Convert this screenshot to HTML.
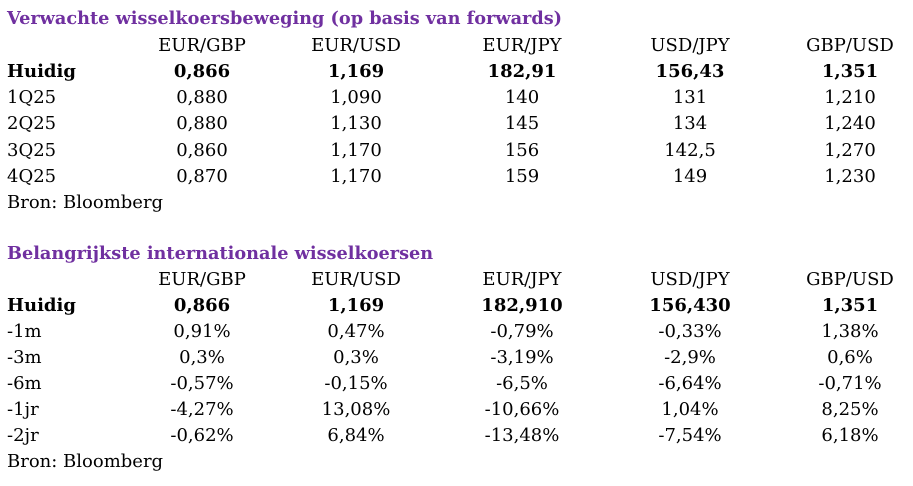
<!DOCTYPE html>
<html><head><meta charset="utf-8"><style>
body{margin:0;width:913px;height:486px;background:#fff;position:relative;overflow:hidden;font-family:"DejaVu Serif","Liberation Serif",serif;font-size:18px;color:#000}
.t{position:absolute;left:7px;color:#7030A0;font-weight:bold;white-space:nowrap;font-size:17.7px}
.r{position:absolute;left:0;width:913px;height:26px;white-space:nowrap}
.r span{position:absolute;top:0}
.l{left:7px}
.c{transform:translateX(-50%)}
.b{font-weight:bold}
</style></head><body>
<div class="t" style="top:8px">Verwachte wisselkoersbeweging (op basis van forwards)</div>
<div class="r" style="top:35px"><span class="c" style="left:202px">EUR/GBP</span><span class="c" style="left:356px">EUR/USD</span><span class="c" style="left:522px">EUR/JPY</span><span class="c" style="left:690px">USD/JPY</span><span class="c" style="left:850px">GBP/USD</span></div>
<div class="r b" style="top:61px"><span class="l">Huidig</span><span class="c" style="left:202px">0,866</span><span class="c" style="left:356px">1,169</span><span class="c" style="left:522px">182,91</span><span class="c" style="left:690px">156,43</span><span class="c" style="left:850px">1,351</span></div>
<div class="r" style="top:87px"><span class="l">1Q25</span><span class="c" style="left:202px">0,880</span><span class="c" style="left:356px">1,090</span><span class="c" style="left:522px">140</span><span class="c" style="left:690px">131</span><span class="c" style="left:850px">1,210</span></div>
<div class="r" style="top:113px"><span class="l">2Q25</span><span class="c" style="left:202px">0,880</span><span class="c" style="left:356px">1,130</span><span class="c" style="left:522px">145</span><span class="c" style="left:690px">134</span><span class="c" style="left:850px">1,240</span></div>
<div class="r" style="top:140px"><span class="l">3Q25</span><span class="c" style="left:202px">0,860</span><span class="c" style="left:356px">1,170</span><span class="c" style="left:522px">156</span><span class="c" style="left:690px">142,5</span><span class="c" style="left:850px">1,270</span></div>
<div class="r" style="top:166px"><span class="l">4Q25</span><span class="c" style="left:202px">0,870</span><span class="c" style="left:356px">1,170</span><span class="c" style="left:522px">159</span><span class="c" style="left:690px">149</span><span class="c" style="left:850px">1,230</span></div>
<div class="r" style="top:192px"><span class="l">Bron: Bloomberg</span></div>

<div class="t" style="top:243px">Belangrijkste internationale wisselkoersen</div>
<div class="r" style="top:269px"><span class="c" style="left:202px">EUR/GBP</span><span class="c" style="left:356px">EUR/USD</span><span class="c" style="left:522px">EUR/JPY</span><span class="c" style="left:690px">USD/JPY</span><span class="c" style="left:850px">GBP/USD</span></div>
<div class="r b" style="top:295px"><span class="l">Huidig</span><span class="c" style="left:202px">0,866</span><span class="c" style="left:356px">1,169</span><span class="c" style="left:522px">182,910</span><span class="c" style="left:690px">156,430</span><span class="c" style="left:850px">1,351</span></div>
<div class="r" style="top:321px"><span class="l">-1m</span><span class="c" style="left:202px">0,91%</span><span class="c" style="left:356px">0,47%</span><span class="c" style="left:522px">-0,79%</span><span class="c" style="left:690px">-0,33%</span><span class="c" style="left:850px">1,38%</span></div>
<div class="r" style="top:347px"><span class="l">-3m</span><span class="c" style="left:202px">0,3%</span><span class="c" style="left:356px">0,3%</span><span class="c" style="left:522px">-3,19%</span><span class="c" style="left:690px">-2,9%</span><span class="c" style="left:850px">0,6%</span></div>
<div class="r" style="top:373px"><span class="l">-6m</span><span class="c" style="left:202px">-0,57%</span><span class="c" style="left:356px">-0,15%</span><span class="c" style="left:522px">-6,5%</span><span class="c" style="left:690px">-6,64%</span><span class="c" style="left:850px">-0,71%</span></div>
<div class="r" style="top:399px"><span class="l">-1jr</span><span class="c" style="left:202px">-4,27%</span><span class="c" style="left:356px">13,08%</span><span class="c" style="left:522px">-10,66%</span><span class="c" style="left:690px">1,04%</span><span class="c" style="left:850px">8,25%</span></div>
<div class="r" style="top:425px"><span class="l">-2jr</span><span class="c" style="left:202px">-0,62%</span><span class="c" style="left:356px">6,84%</span><span class="c" style="left:522px">-13,48%</span><span class="c" style="left:690px">-7,54%</span><span class="c" style="left:850px">6,18%</span></div>
<div class="r" style="top:451px"><span class="l">Bron: Bloomberg</span></div>
</body></html>
